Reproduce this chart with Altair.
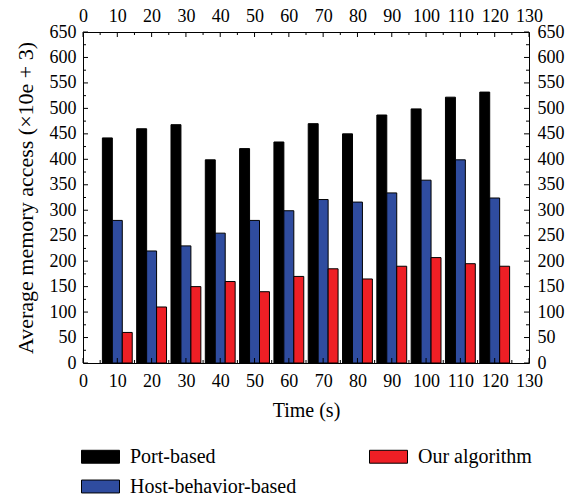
import altair as alt
import pandas as pd

times = [10, 20, 30, 40, 50, 60, 70, 80, 90, 100, 110, 120]
port_based = [442, 460, 468, 399, 421, 434, 470, 450, 487, 499, 522, 532]
host_based = [280, 220, 230, 255, 280, 299, 321, 316, 334, 359, 399, 324]
our_algo = [60, 110, 150, 160, 140, 170, 185, 165, 190, 207, 195, 190]
series_names = ["Port-based", "Host-behavior-based", "Our algorithm"]
series_colors = ["#000000", "#2F4C9F", "#EE1F25"]

x_major = list(range(0, 131, 10))
x_minor = list(range(5, 130, 10))
y_major = list(range(0, 651, 50))
y_minor = list(range(25, 650, 50))

rows = []
for i, t in enumerate(times):
    for k, vals in enumerate([port_based, host_based, our_algo]):
        rows.append({"time": t, "series": series_names[k], "idx": k, "value": vals[i]})
df = pd.DataFrame(rows)

W, H = 446, 331
FONT = "Liberation Serif"
BW = 2.9

xs = alt.Scale(domain=[0, 130], nice=False, zero=False)
ys = alt.Scale(domain=[0, 650], nice=False)

def ax(orient, values, title=None, pad=8, tpad=4, tsize=20):
    kw = dict(orient=orient, values=values, ticks=False, grid=False, domain=True,
              domainColor="black", domainWidth=1, labelFont=FONT, labelFontSize=18,
              labelColor="black", labelPadding=pad, labelFlush=False, labelOverlap=False,
              titleFont=FONT, titleFontSize=tsize, titleFontWeight="normal", titleColor="black",
              titlePadding=tpad)
    kw["title"] = title
    return alt.Axis(**kw)

bars = alt.Chart(df).transform_calculate(
    x0=f"datum.time + (datum.idx - 1) * {BW} - {BW / 2}",
    x1=f"datum.time + (datum.idx - 1) * {BW} + {BW / 2}",
).mark_bar(stroke="black", strokeWidth=1).encode(
    x=alt.X("x0:Q", scale=xs, axis=ax("bottom", x_major, "Time (s)", 9, 10)),
    x2="x1:Q",
    y=alt.Y("value:Q", scale=ys, axis=ax("left", y_major, "Average memory access (×10e + 3)", 7, 12, 22)),
    y2=alt.datum(0),
    color=alt.Color("series:N", scale=alt.Scale(domain=series_names, range=series_colors),
                    legend=alt.Legend(
                        title=None, orient="none", legendX=-2, legendY=405, columns=2,
                        direction="vertical", columnPadding=70, rowPadding=-21,
                        symbolType="M-1,-0.34L1,-0.34L1,0.34L-1,0.34Z", symbolSize=1444,
                        symbolStrokeColor="black", symbolStrokeWidth=1, symbolOpacity=1,
                        labelFont=FONT, labelFontSize=20, labelColor="black", labelOffset=10,
                        labelLimit=400)),
)

def tick_layer(values, side, length, with_axis=False):
    d = pd.DataFrame({"v": values})
    c = alt.Chart(d).mark_rule(color="black", strokeWidth=1)
    if side in ("left", "right"):
        axis = ax("right", y_major, None, 8) if with_axis else None
        x0 = 0 if side == "left" else W
        x1 = length if side == "left" else W - length
        return c.encode(y=alt.Y("v:Q", scale=ys, axis=axis), x=alt.value(x0), x2=alt.value(x1))
    else:
        axis = ax("top", x_major, None, 7) if with_axis else None
        y0 = 0 if side == "top" else H
        y1 = length if side == "top" else H - length
        return c.encode(x=alt.X("v:Q", scale=xs, axis=axis), y=alt.value(y0), y2=alt.value(y1))

layers = [
    bars,
    tick_layer(y_major, "right", 5, with_axis=True),
    tick_layer(x_major, "top", 5, with_axis=True),
    tick_layer(y_major, "left", 5),
    tick_layer(y_minor, "left", 3),
    tick_layer(y_minor, "right", 3),
    tick_layer(x_minor, "top", 3),
    tick_layer(x_major, "bottom", 5),
    tick_layer(x_minor, "bottom", 3),
]

chart = alt.layer(*layers).resolve_axis(x="independent", y="independent").properties(
    width=W, height=H,
    autosize=alt.AutoSizeParams(type="none"),
    padding={"left": 83, "top": 32, "right": 42, "bottom": 134},
).configure_view(stroke=None).configure(background="white")

chart.save("out.html", embed_options={"renderer": "svg", "actions": False})
